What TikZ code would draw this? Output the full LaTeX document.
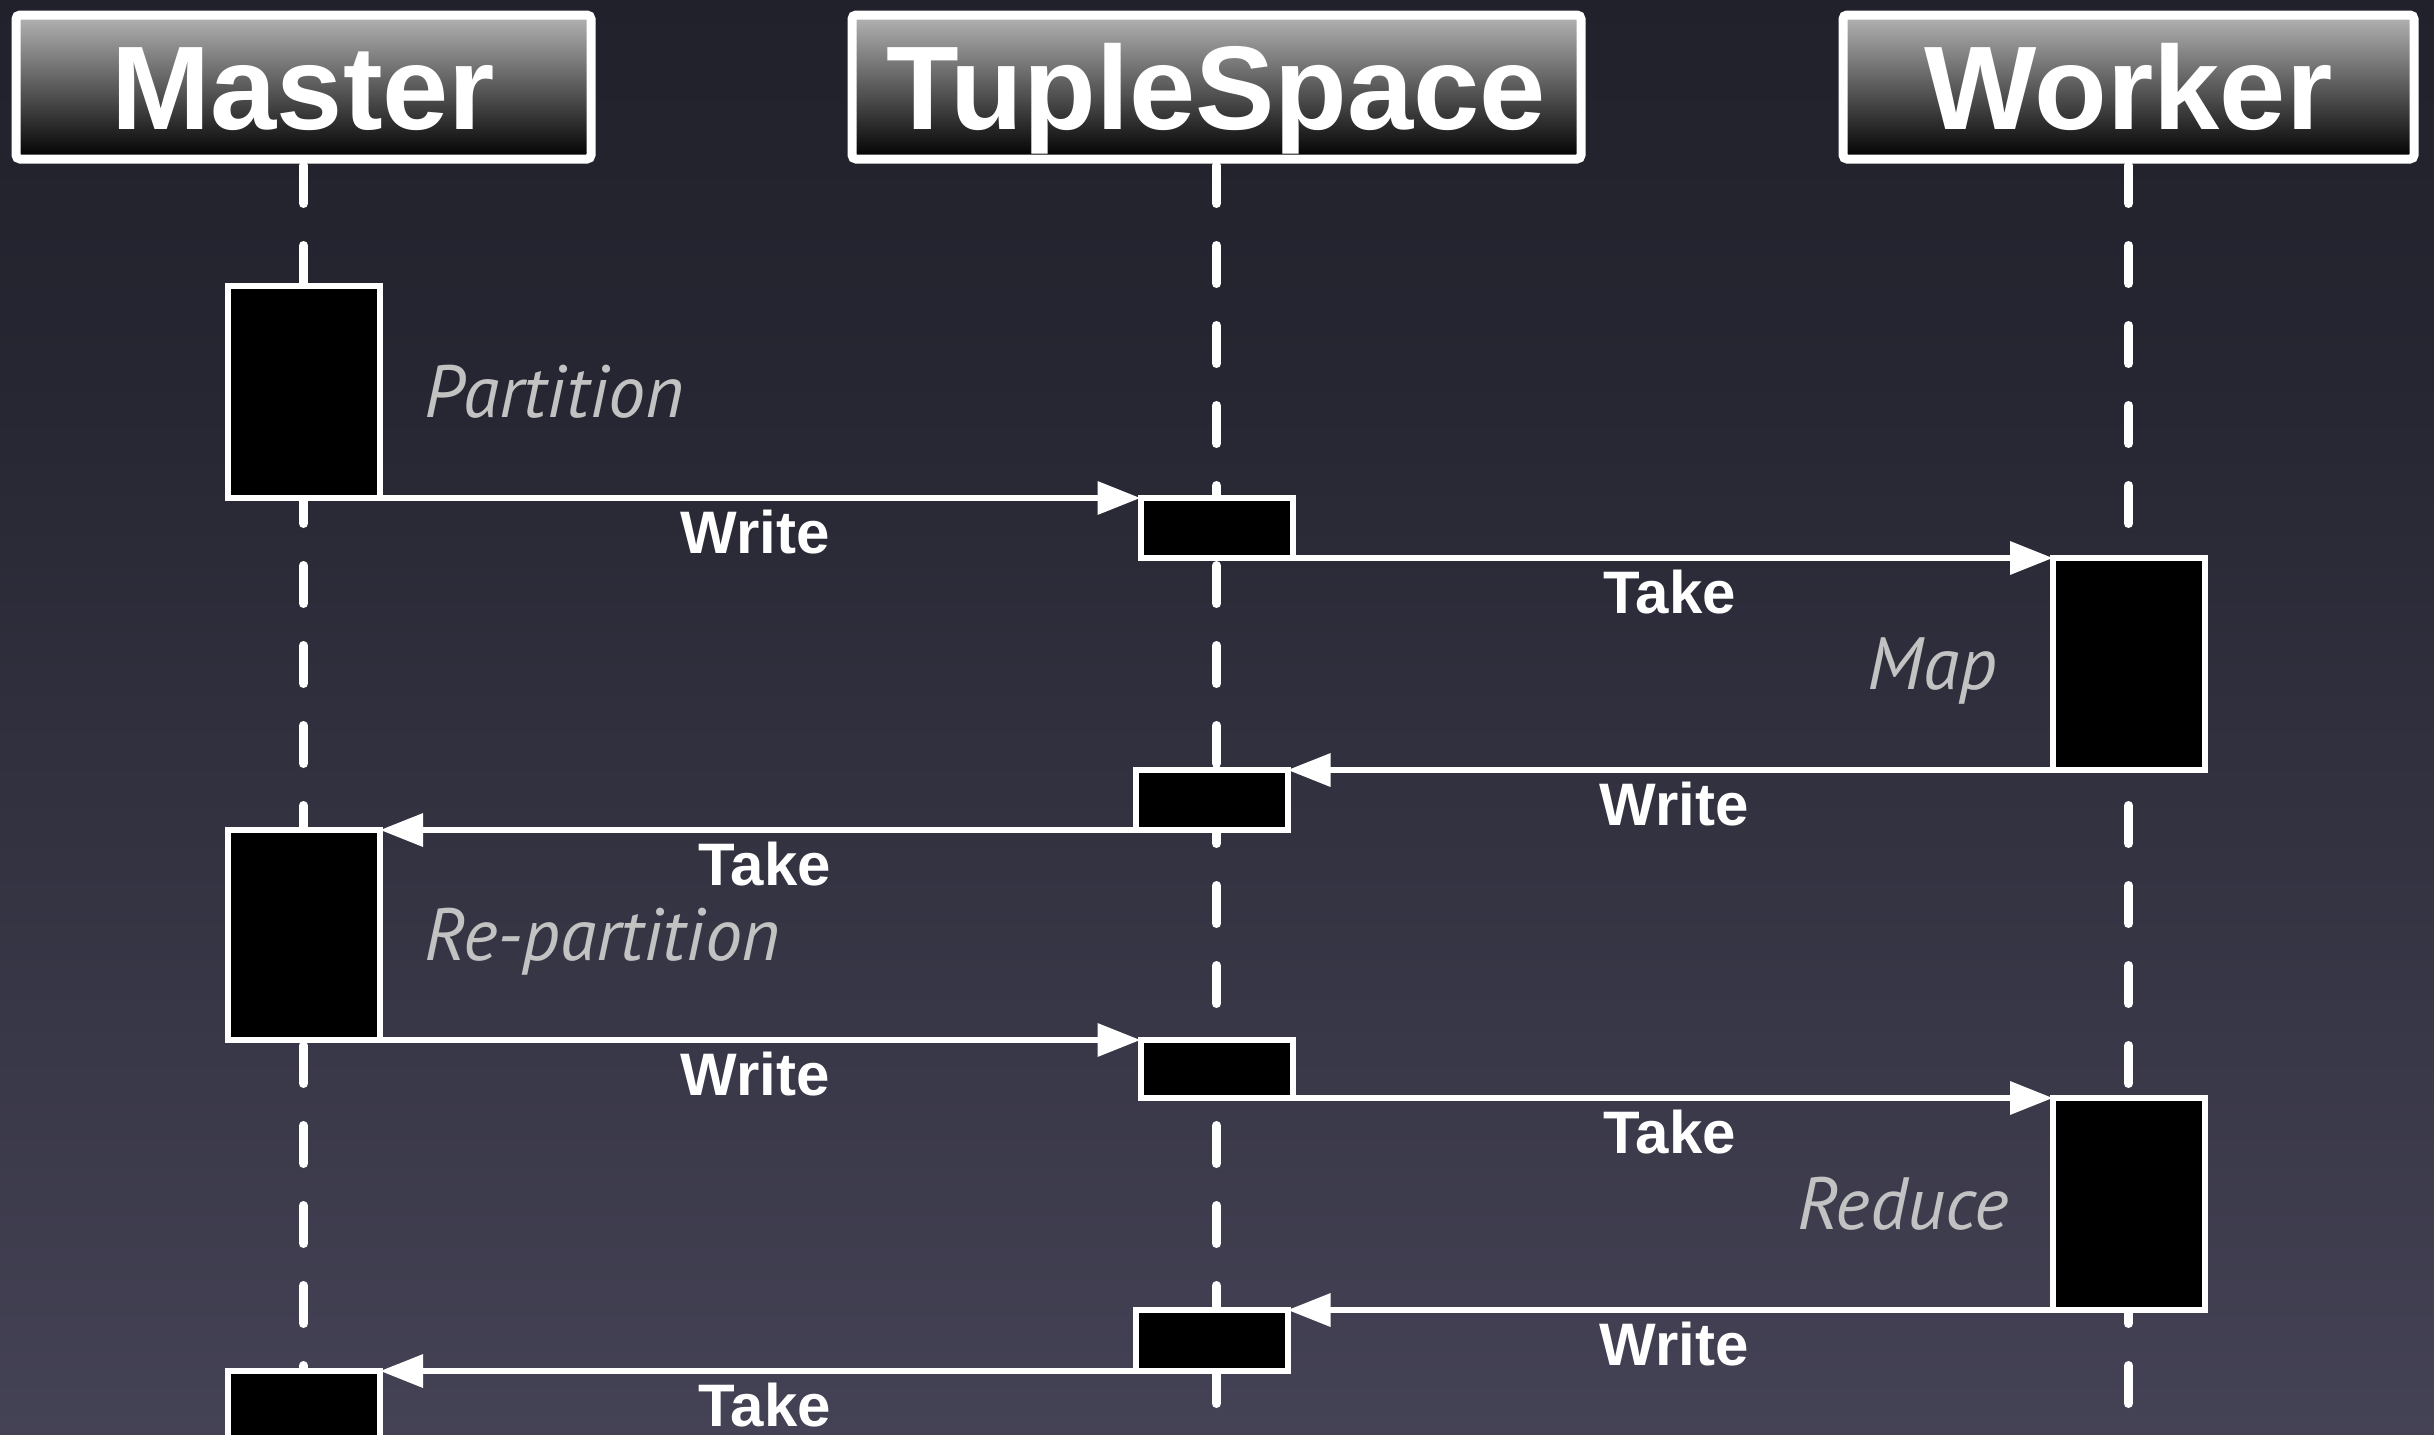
\documentclass[tikz,border=0pt]{standalone}
\usepackage{fontspec}
\setsansfont{Liberation Sans}
\newfontfamily\itlabelfont{PT Sans}
\usetikzlibrary{arrows.meta}
\definecolor{bgtop}{RGB}{24,24,30}
\definecolor{bgmid}{RGB}{38,38,50}
\definecolor{bgbot}{RGB}{88,85,108}
\definecolor{hdrtop}{RGB}{180,180,180}
\definecolor{labelgray}{RGB}{194,194,194}
\pgfdeclareverticalshading{bgshade}{100bp}{color(0bp)=(bgbot); color(62bp)=(bgmid); color(100bp)=(bgtop)}
\begin{document}
\begin{tikzpicture}[x=1pt,y=-1pt,
  hdr/.style={draw=white, line width=9pt, rounded corners=4pt, top color=hdrtop, bottom color=black,
    minimum height=144pt, inner sep=0pt, outer sep=0pt, text=white,
    font=\sffamily\bfseries\fontsize{119}{119}\selectfont, text height=85pt, text depth=0pt},
  lifeline/.style={draw=white, line width=9pt, line cap=round, dash pattern=on 38pt off 42pt},
  actbox/.style={draw=white, fill=black, line width=6pt, inner sep=0pt, outer sep=0pt, minimum width=152pt},
  msg/.style={draw=white, line width=6.5pt, -{Triangle[length=43pt,width=32pt]}},
  lbl/.style={text=white, inner sep=0pt, font=\sffamily\bfseries\fontsize{60}{60}\selectfont, yshift=-34pt},
  act/.style={text=labelgray, inner sep=0pt, font=\itlabelfont\itshape\fontsize{74}{74}\selectfont}
]
\useasboundingbox (0,0) rectangle (2434,1435);
\clip (0,0) rectangle (2434,1435);
\fill[shading=bgshade] (0,0) rectangle (2434,1435);

% headers
\node[hdr, minimum width=575pt] (mhdr) at (303.5,87) {Master};
\node[hdr, minimum width=729pt] (thdr) at (1216.5,87) {TupleSpace};
\node[hdr, minimum width=571pt] (whdr) at (2128.5,87) {Worker};

\coordinate (bot) at (0,1460);

% lifelines
\draw[lifeline] ([yshift=-6.5pt]mhdr.south) -- (mhdr.south |- bot);
\draw[lifeline] ([yshift=-6.5pt]thdr.south) -- (thdr.south |- bot);
\draw[lifeline] ([yshift=-6.5pt]whdr.south) -- (whdr.south |- bot);

% activation boxes
\node[actbox, minimum height=212pt] (m1) at (304,392) {};
\node[actbox, minimum height=60pt] (ts1) at (1216.5,528) {};
\node[actbox, minimum height=212pt] (w1) at (2129,664) {};
\node[actbox, minimum height=60pt] (ts2) at (1211.5,800) {};
\node[actbox, minimum height=210pt] (m2) at (304,935) {};
\node[actbox, minimum height=58pt] (ts3) at (1216.5,1069) {};
\node[actbox, minimum height=212pt] (w2) at (2129,1204) {};
\node[actbox, minimum height=61pt] (ts4) at (1211.5,1340.5) {};
\node[actbox, minimum height=212pt] (m3) at (304,1477) {};

% messages
\draw[msg] (m1.south east) -- node[lbl, xshift=-5pt]{Write} (ts1.north west);
\draw[msg] (ts1.south east) -- node[lbl, xshift=-3pt]{Take} (w1.north west);
\draw[msg] (w1.south west) -- node[lbl, xshift=4pt]{Write} (ts2.north east);
\draw[msg] (ts2.south west) -- node[lbl, xshift=7pt]{Take} (m2.north east);
\draw[msg] (m2.south east) -- node[lbl, xshift=-5pt]{Write} (ts3.north west);
\draw[msg] (ts3.south east) -- node[lbl, xshift=-3pt]{Take} (w2.north west);
\draw[msg] (w2.south west) -- node[lbl, xshift=4pt]{Write} (ts4.north east);
\draw[msg] (ts4.south west) -- node[lbl, xshift=7pt]{Take} (m3.north east);

% activity labels
\node[act, anchor=base west] (lpart) at ([shift={(44,25)}]m1.east) {Partition};
\node[act, anchor=base east] (lmap) at ([shift={(-56,25)}]w1.west) {Map};
\node[act, anchor=base west] (lrep) at ([shift={(44,25)}]m2.east) {Re-partition};
\node[act, anchor=base east] (lred) at ([shift={(-44,25)}]w2.west) {Reduce};
\end{tikzpicture}
\end{document}
